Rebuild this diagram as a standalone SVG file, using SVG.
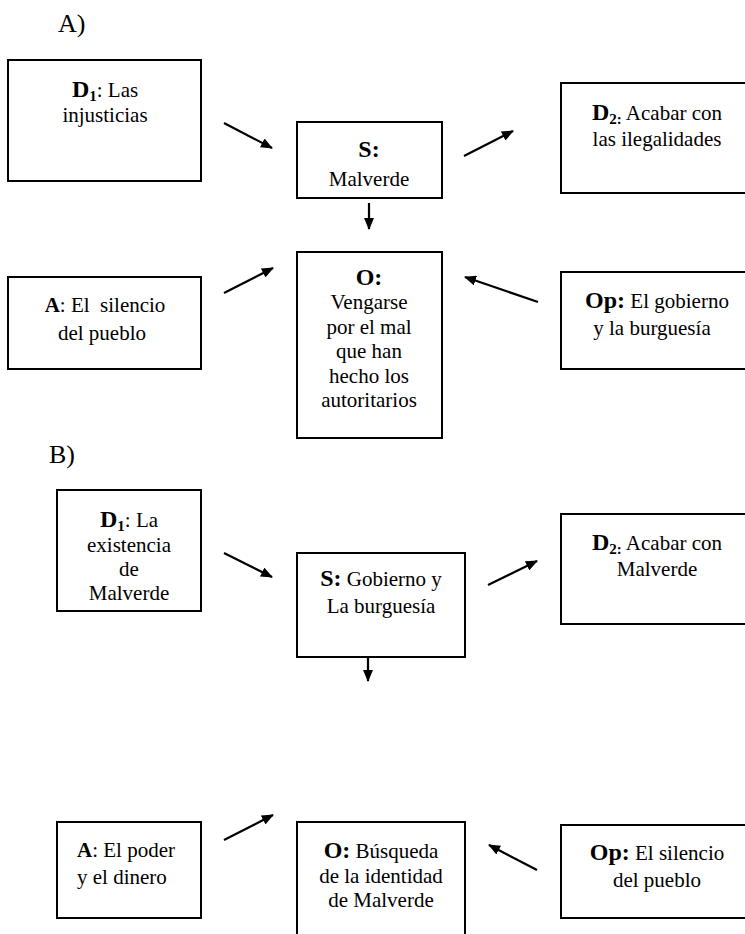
<svg xmlns="http://www.w3.org/2000/svg" width="745" height="934" viewBox="0 0 745 934">
<style>
text{font-family:"Liberation Serif","Times New Roman",serif;font-size:21px;fill:#000;white-space:pre}
.c{text-anchor:middle}
.b{font-weight:bold;font-size:24px}
.ba{font-weight:bold;font-size:21px}
.sub{font-weight:bold;font-size:15px}
.lbl{font-size:26px}
rect{fill:#fff;stroke:#000;stroke-width:2}
.conn line{stroke:#000;stroke-width:2.2}
</style>
<defs>
<marker id="ah" markerUnits="userSpaceOnUse" markerWidth="12" markerHeight="10" refX="11" refY="5" orient="auto">
<path d="M0,0 L12,5 L0,10 Z" fill="#000"/>
</marker>
</defs>
<rect x="0" y="0" width="745" height="934" style="fill:#fff;stroke:none"/>

<text class="lbl" x="58" y="32">A)</text>
<text class="lbl" x="49" y="463">B)</text>

<g id="A_D1">
<rect x="8" y="60" width="193" height="121"/>
<text class="c" x="105" y="97"><tspan class="b">D</tspan><tspan class="sub" dy="4">1</tspan><tspan dy="-4">: Las</tspan></text>
<text class="c" x="105" y="122">injusticias</text>
</g>
<g id="A_S">
<rect x="297" y="122" width="145" height="76"/>
<text class="c" x="369" y="157"><tspan class="b">S:</tspan></text>
<text class="c" x="369" y="186">Malverde</text>
</g>
<g id="A_D2">
<rect x="561" y="83" width="194" height="110"/>
<text class="c" x="657" y="120"><tspan class="b">D</tspan><tspan class="sub" dy="4">2:</tspan><tspan dy="-4"> Acabar con</tspan></text>
<text class="c" x="657" y="146">las ilegalidades</text>
</g>
<g id="A_A">
<rect x="8" y="277" width="193" height="92"/>
<text class="c" x="105" y="312"><tspan class="ba">A</tspan>: El  silencio</text>
<text class="c" x="102" y="340">del pueblo</text>
</g>
<g id="A_O">
<rect x="297" y="252" width="145" height="186"/>
<text class="c" x="369" y="285"><tspan class="b">O:</tspan></text>
<text class="c" x="369" y="309">Vengarse</text>
<text class="c" x="369" y="334">por el mal</text>
<text class="c" x="369" y="358">que han</text>
<text class="c" x="369" y="383">hecho los</text>
<text class="c" x="369" y="407">autoritarios</text>
</g>
<g id="A_Op">
<rect x="561" y="272" width="194" height="97"/>
<text class="c" x="657" y="308"><tspan class="b">Op:</tspan> El gobierno</text>
<text class="c" x="652" y="335">y la burguesía</text>
</g>

<g id="B_D1">
<rect x="57" y="490" width="144" height="121"/>
<text class="c" x="129" y="527"><tspan class="b">D</tspan><tspan class="sub" dy="4">1</tspan><tspan dy="-4">: La</tspan></text>
<text class="c" x="129" y="552">existencia</text>
<text class="c" x="129" y="576">de</text>
<text class="c" x="129" y="600">Malverde</text>
</g>
<g id="B_S">
<rect x="297" y="553" width="168" height="104"/>
<text class="c" x="381" y="586"><tspan class="b">S:</tspan> Gobierno y</text>
<text class="c" x="381" y="613">La burguesía</text>
</g>
<g id="B_D2">
<rect x="561" y="514" width="194" height="110"/>
<text class="c" x="657" y="550"><tspan class="b">D</tspan><tspan class="sub" dy="4">2:</tspan><tspan dy="-4"> Acabar con</tspan></text>
<text class="c" x="657" y="576">Malverde</text>
</g>
<g id="B_A">
<rect x="57" y="822" width="144" height="96"/>
<text x="77" y="857"><tspan class="ba">A</tspan>: El poder</text>
<text x="77" y="884">y el dinero</text>
</g>
<g id="B_O">
<rect x="297" y="822" width="168" height="120"/>
<text class="c" x="381" y="858"><tspan class="b">O:</tspan> Búsqueda</text>
<text class="c" x="381" y="883">de la identidad</text>
<text class="c" x="381" y="907">de Malverde</text>
</g>
<g id="B_Op">
<rect x="561" y="825" width="194" height="93"/>
<text class="c" x="657" y="860"><tspan class="b">Op:</tspan> El silencio</text>
<text class="c" x="657" y="887">del pueblo</text>
</g>

<g class="conn" id="connectors">
<line x1="224" y1="123" x2="272" y2="148" marker-end="url(#ah)"/>
<line x1="464" y1="156" x2="513" y2="131" marker-end="url(#ah)"/>
<line x1="369" y1="203" x2="369" y2="229" marker-end="url(#ah)"/>
<line x1="224" y1="293" x2="273" y2="268" marker-end="url(#ah)"/>
<line x1="538" y1="302" x2="465" y2="277" marker-end="url(#ah)"/>
<line x1="224" y1="553" x2="272" y2="577" marker-end="url(#ah)"/>
<line x1="488" y1="585" x2="537" y2="561" marker-end="url(#ah)"/>
<line x1="368" y1="657" x2="368" y2="681" marker-end="url(#ah)"/>
<line x1="224" y1="840" x2="273" y2="815" marker-end="url(#ah)"/>
<line x1="537" y1="870" x2="489" y2="845" marker-end="url(#ah)"/>
</g>
</svg>
